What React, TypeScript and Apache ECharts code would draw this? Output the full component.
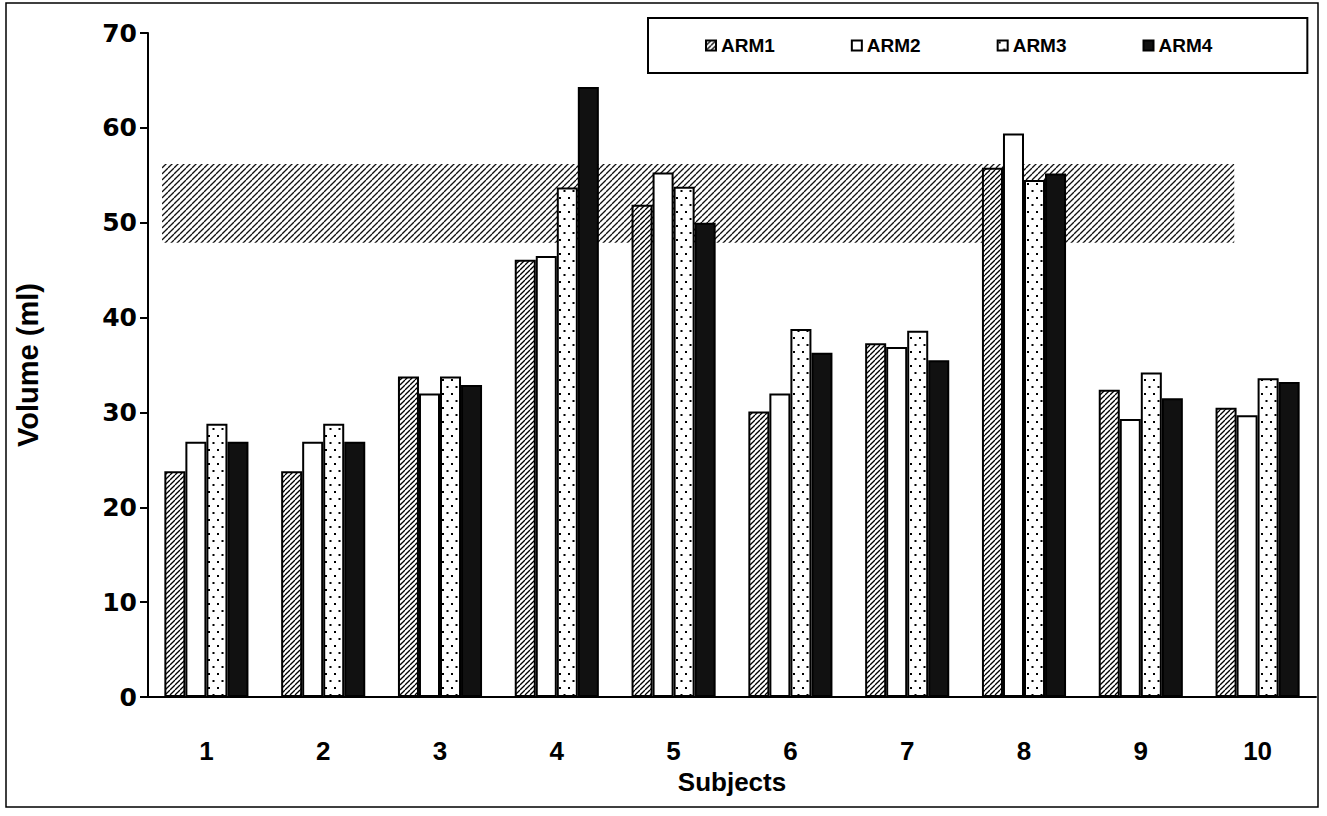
import React, { useEffect, useRef } from "react";
import * as echarts from "echarts";

const categories = ["1", "2", "3", "4", "5", "6", "7", "8", "9", "10"];
const seriesNames = ["ARM1", "ARM2", "ARM3", "ARM4"];
const arm1 = [23.8, 23.8, 33.8, 46.1, 51.9, 30.1, 37.3, 55.8, 32.4, 30.5];
const arm2 = [26.9, 26.9, 32.0, 46.5, 55.3, 32.0, 36.9, 59.4, 29.3, 29.7];
const arm3 = [28.8, 28.8, 33.8, 53.7, 53.8, 38.8, 38.6, 54.5, 34.2, 33.6];
const arm4 = [26.9, 26.9, 32.9, 64.3, 50.0, 36.3, 35.5, 55.2, 31.5, 33.2];
const bandRange = [47.9, 56.2];
const bandSpan = [0.12, 9.3];

function hatchCanvas(size: number, lineW: number, color: string) {
  const c = document.createElement("canvas");
  c.width = size;
  c.height = size;
  const ctx = c.getContext("2d")!;
  ctx.fillStyle = "#fff";
  ctx.fillRect(0, 0, size, size);
  ctx.strokeStyle = color;
  ctx.lineWidth = lineW;
  for (const off of [-size, 0, size]) {
    ctx.beginPath();
    ctx.moveTo(off, size);
    ctx.lineTo(off + size, 0);
    ctx.stroke();
  }
  return c;
}

function dotCanvas(w: number, h: number) {
  const c = document.createElement("canvas");
  c.width = w;
  c.height = h;
  const ctx = c.getContext("2d")!;
  ctx.fillStyle = "#fff";
  ctx.fillRect(0, 0, w, h);
  ctx.fillStyle = "#000";
  ctx.fillRect(1, 1, 2, 2);
  ctx.fillRect(1 + w / 2, 1 + h / 2, 2, 2);
  return c;
}

export default function App() {
  const ref = useRef<HTMLDivElement>(null);
  useEffect(() => {
    if (!ref.current) return;
    const chart = echarts.init(ref.current, undefined, { renderer: "svg" });
    const hatch = { image: hatchCanvas(5, 1.3, "#000"), repeat: "repeat" } as any;
    const bandHatch = { image: hatchCanvas(6, 1.3, "#111"), repeat: "repeat" } as any;
    const dots = { image: dotCanvas(9, 14), repeat: "repeat" } as any;
    const fills = [hatch, "#fff", dots, "#111"];
    const values = [arm1, arm2, arm3, arm4];
    const font = "'Liberation Sans', Arial, sans-serif";

    const bars = seriesNames.map((name, i) => ({
      name,
      type: "bar",
      data: values[i],
      barGap: "0%",
      barCategoryGap: "28%",
      xAxisIndex: 0,
      yAxisIndex: 0,
      z: 3,
      itemStyle: { color: fills[i], borderColor: "#000", borderWidth: 2 },
    }));

    chart.setOption({
      animation: false,
      backgroundColor: "#fff",
      grid: { left: 148, right: 11, top: 33, bottom: 119 },
      legend: {
        data: seriesNames,
        left: 648,
        top: 18,
        padding: [18, 95, 18, 57],
        itemGap: 76,
        itemWidth: 10,
        itemHeight: 10,
        icon: "rect",
        borderColor: "#000",
        borderWidth: 2,
        textStyle: { fontFamily: font, fontWeight: "bold", fontSize: 19, color: "#000" },
      },
      xAxis: [
        {
          type: "category",
          data: categories,
          name: "Subjects",
          nameLocation: "middle",
          nameGap: 66,
          nameTextStyle: { fontFamily: font, fontWeight: "bold", fontSize: 26, color: "#000" },
          axisLine: { lineStyle: { color: "#000", width: 2 } },
          axisTick: { length: 8, lineStyle: { color: "#000", width: 2 } },
          axisLabel: { margin: 41, fontFamily: font, fontWeight: "bold", fontSize: 26, color: "#000" },
        },
        { type: "value", min: 0, max: 10, show: false },
      ],
      yAxis: {
        type: "value",
        min: 0,
        max: 70,
        interval: 10,
        name: "Volume (ml)",
        nameLocation: "middle",
        nameGap: 106,
        nameTextStyle: { fontFamily: font, fontWeight: "bold", fontSize: 29, color: "#000" },
        splitLine: { show: false },
        axisLine: { show: true, lineStyle: { color: "#000", width: 2 } },
        axisTick: { show: true, length: 8, lineStyle: { color: "#000", width: 2 } },
        axisLabel: { margin: 11, fontFamily: "'DejaVu Sans', sans-serif", fontWeight: "bold", fontSize: 25, color: "#000" },
      },
      series: [
        {
          name: "band",
          type: "line",
          xAxisIndex: 1,
          yAxisIndex: 0,
          data: [],
          z: 1,
          markArea: {
            silent: true,
            itemStyle: { color: bandHatch, borderWidth: 0 },
            data: [[{ coord: [bandSpan[0], bandRange[1]] }, { coord: [bandSpan[1], bandRange[0]] }]],
          },
        },
        ...bars,
      ],
      graphic: [
        {
          type: "rect",
          shape: { x: 6, y: 3, width: 1312, height: 804 },
          style: { fill: "transparent", stroke: "#000", lineWidth: 1.5 },
          silent: true,
          z: 0,
        },
      ],
    });
    return () => chart.dispose();
  }, []);
  return <div ref={ref} style={{ position: "fixed", left: 0, top: 0, width: 1327, height: 816 }} />;
}
